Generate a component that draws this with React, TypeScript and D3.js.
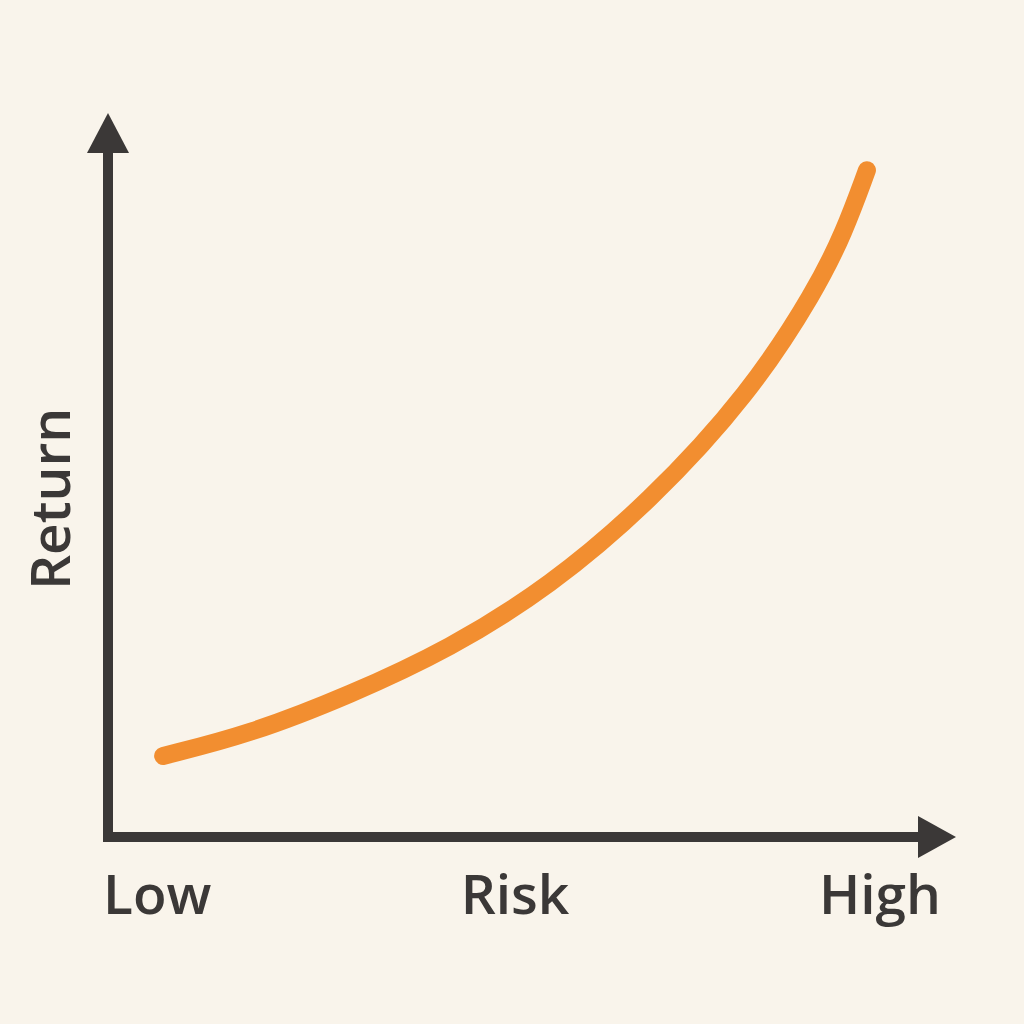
import React from "react";
import * as d3 from "d3";

// Data: risk (x) vs return (y), abstract 0–100 units
const riskValues = [6.5, 16.7, 28.5, 40.3, 52.1, 63.9, 75.7, 83.5, 86.8, 89.5];
const returnValues = [11.2, 14.2, 19.6, 26.0, 34.6, 46.3, 61.3, 75.6, 83.5, 92.1];
const xTickLabels = ["Low", "Risk", "High"];
const yAxisLabel = "Return";

const W = 1024;
const H = 1024;
const BG = "#f9f4eb";
const INK = "#3b3837";
const ORANGE = "#f28e30";
const FONT = "'Open Sans', 'Noto Sans', sans-serif";

export default function App() {
  const x = d3.scaleLinear().domain([0, 100]).range([108, 956]);
  const y = d3.scaleLinear().domain([0, 100]).range([837, 113]);

  const pts: [number, number][] = riskValues.map((r, i) => [r, returnValues[i]]);
  const line = d3
    .line<[number, number]>()
    .x((d) => x(d[0]))
    .y((d) => y(d[1]))
    .curve(d3.curveBasis);

  const x0 = x(0);
  const y0 = y(0);
  const xEnd = x(100);
  const yEnd = y(100);
  const head = 38;
  const half = 21;

  return (
    <svg
      width={W}
      height={H}
      style={{ position: "absolute", left: 0, top: 0, display: "block" }}
    >
      <rect x={0} y={0} width={W} height={H} fill={BG} />
      {/* Y axis */}
      <line x1={x0} y1={y0 + 5} x2={x0} y2={yEnd + head - 2} stroke={INK} strokeWidth={10} />
      <path
        d={`M${x0},${yEnd} L${x0 - half},${yEnd + head + 2} L${x0 + half},${yEnd + head + 2} Z`}
        fill={INK}
      />
      {/* X axis */}
      <line x1={x0 - 5} y1={y0} x2={xEnd - head + 2} y2={y0} stroke={INK} strokeWidth={10} />
      <path
        d={`M${xEnd},${y0} L${xEnd - head},${y0 - half} L${xEnd - head},${y0 + half} Z`}
        fill={INK}
      />
      {/* Curve */}
      <path
        d={line(pts) || ""}
        fill="none"
        stroke={ORANGE}
        strokeWidth={18}
        strokeLinecap="round"
        strokeLinejoin="round"
      />
      {/* Labels */}
      <g fontFamily={FONT} fontSize={55} fontWeight={600} fill={INK}>
        <text x={103} y={914} textAnchor="start">{xTickLabels[0]}</text>
        <text x={515} y={914} textAnchor="middle">{xTickLabels[1]}</text>
        <text x={941} y={914} textAnchor="end">{xTickLabels[2]}</text>
        <text transform={`translate(70,499) rotate(-90)`} textAnchor="middle">{yAxisLabel}</text>
      </g>
    </svg>
  );
}
